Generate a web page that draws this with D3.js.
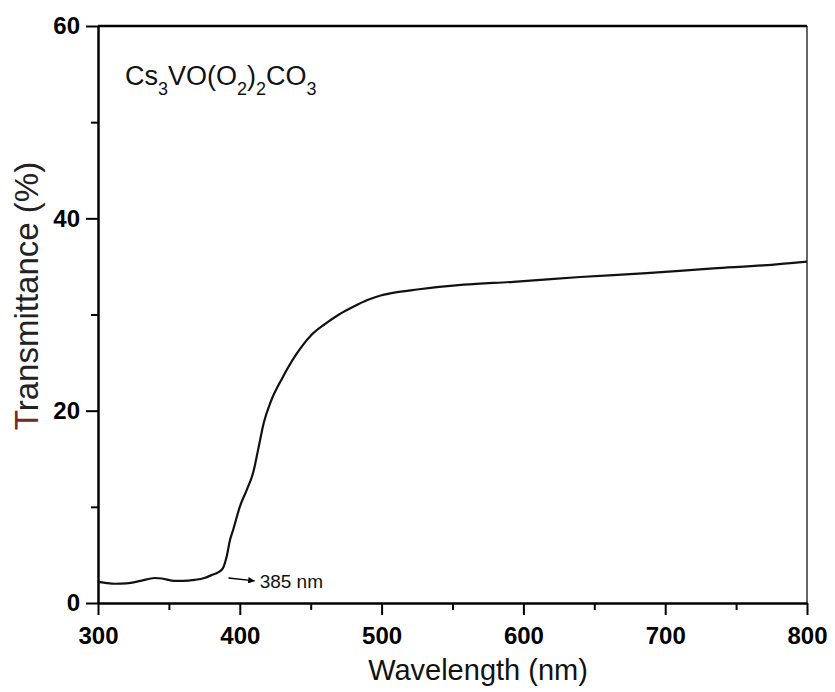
<!DOCTYPE html>
<html>
<head>
<meta charset="utf-8">
<script src="https://cdn.jsdelivr.net/npm/d3@7"></script>
<style>
  body { margin: 0; background: #fff; }
  svg { font-family: "Liberation Sans", Arial, sans-serif; }
</style>
</head>
<body>
<div id="chart"></div>
<script>
// wavelength (nm) and transmittance (%)
const wavelengths = [300, 305, 312, 320, 330, 340, 345, 354, 360, 368, 375, 380, 385, 388, 391, 393,
  395.5, 400, 405, 409.5, 413, 417, 422, 430, 440, 450, 460, 470, 480, 490, 500, 510, 525, 558, 593,
  640, 687, 734, 769, 800];
const transmittance = [2.2, 2.1, 2.0, 2.05, 2.3, 2.6, 2.55, 2.3, 2.3, 2.4, 2.6, 2.9, 3.2, 3.6, 5.0, 6.5,
  7.7, 10.0, 11.8, 13.6, 16.0, 18.8, 21.0, 23.4, 25.9, 27.8, 29.0, 30.0, 30.8, 31.5, 32.0, 32.3, 32.6, 33.1, 33.4,
  33.9, 34.3, 34.8, 35.1, 35.5];
const xTicks = [300, 400, 500, 600, 700, 800];
const yTicks = [0, 20, 40, 60];
const edgeLabel = "385 nm";

const data = wavelengths.map((w, i) => ({w: w, t: transmittance[i]}));

const width = 835, height = 692;
const margin = {top: 26, right: 28, bottom: 89, left: 98};
const innerW = width - margin.left - margin.right;
const innerH = height - margin.top - margin.bottom;

const svg = d3.select("#chart").append("svg")
  .attr("width", width)
  .attr("height", height);

const g = svg.append("g")
  .attr("transform", `translate(${margin.left},${margin.top})`);

const x = d3.scaleLinear().domain([300, 800]).range([0, innerW]);
const y = d3.scaleLinear().domain([0, 60]).range([innerH, 0]);

// frame: thin right border, heavy top border
g.append("line")
  .attr("x1", innerW).attr("x2", innerW)
  .attr("y1", 0).attr("y2", innerH)
  .attr("stroke", "#333").attr("stroke-width", 1.5);
g.append("line")
  .attr("x1", 0).attr("x2", innerW)
  .attr("y1", 0).attr("y2", 0)
  .attr("stroke", "#000").attr("stroke-width", 2.5);

// minor ticks
g.append("g")
  .attr("transform", `translate(0,${innerH})`)
  .call(d3.axisBottom(x).tickValues(d3.range(350, 800, 100)).tickSize(7).tickFormat(""))
  .call(a => a.select(".domain").remove())
  .selectAll("line").attr("stroke-width", 2);
g.append("g")
  .call(d3.axisLeft(y).tickValues([10, 30, 50]).tickSize(7).tickFormat(""))
  .call(a => a.select(".domain").remove())
  .selectAll("line").attr("stroke-width", 2);

// major axes
const xAxis = g.append("g")
  .attr("transform", `translate(0,${innerH})`)
  .call(d3.axisBottom(x).tickValues(xTicks).tickSize(12).tickSizeOuter(0).tickPadding(12));
const yAxis = g.append("g")
  .call(d3.axisLeft(y).tickValues(yTicks).tickSize(12).tickSizeOuter(0).tickPadding(6));

[xAxis, yAxis].forEach(a => {
  a.select(".domain").attr("stroke-width", 2.5);
  a.selectAll(".tick line").attr("stroke-width", 2);
  a.selectAll(".tick text")
    .attr("font-family", "'Liberation Sans', Arial, sans-serif")
    .attr("font-size", 24)
    .attr("font-weight", "bold")
    .attr("fill", "#000");
});

// spectrum
const line = d3.line()
  .x(d => x(d.w))
  .y(d => y(d.t))
  .curve(d3.curveMonotoneX);

g.append("path")
  .datum(data)
  .attr("fill", "none")
  .attr("stroke", "#111")
  .attr("stroke-width", 2.2)
  .attr("d", line);

// absorption edge annotation
svg.append("defs").append("marker")
  .attr("id", "arrow")
  .attr("viewBox", "0 0 10 10")
  .attr("refX", 10).attr("refY", 5)
  .attr("markerWidth", 7).attr("markerHeight", 5)
  .attr("orient", "auto")
  .append("path").attr("d", "M0,0 L10,5 L0,10 z").attr("fill", "#000");

g.append("line")
  .attr("x1", x(392)).attr("y1", y(2.6))
  .attr("x2", x(410.5)).attr("y2", y(2.3))
  .attr("stroke", "#000").attr("stroke-width", 1.3)
  .attr("marker-end", "url(#arrow)");
g.append("text")
  .attr("x", x(414)).attr("y", y(2.3) + 7)
  .attr("font-size", 19)
  .attr("fill", "#111")
  .text(edgeLabel);

// compound formula
const formula = g.append("text")
  .attr("x", 27).attr("y", 59)
  .attr("font-size", 27)
  .attr("fill", "#111");
const parts = [["Cs", 0], ["3", 1], ["VO(O", 0], ["2", 1], [")", 0], ["2", 1], ["CO", 0], ["3", 1]];
parts.forEach(([s, sub], i) => {
  const prevSub = i > 0 && parts[i - 1][1];
  formula.append("tspan")
    .attr("dy", sub ? 10 : (prevSub ? -10 : 0))
    .attr("font-size", sub ? 18 : 27)
    .text(s);
});

// axis titles
svg.append("text")
  .attr("x", 478).attr("y", 680)
  .attr("text-anchor", "middle")
  .attr("font-size", 29)
  .attr("fill", "#111")
  .text("Wavelength (nm)");

const yTitle = svg.append("text")
  .attr("transform", "translate(38,296) rotate(-90)")
  .attr("text-anchor", "middle")
  .attr("font-size", 33)
  .attr("fill", "#222");
yTitle.append("tspan").attr("fill", "#7a2424").text("T");
yTitle.append("tspan").text("ransmittance (%)");
</script>
</body>
</html>
